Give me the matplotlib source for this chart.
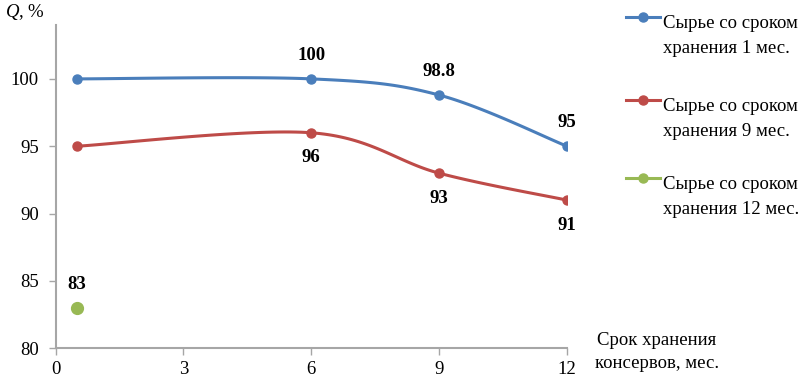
import numpy as np
import matplotlib
matplotlib.use("Agg")
import matplotlib.pyplot as plt

plt.rcParams['font.family'] = ['Liberation Serif', 'DejaVu Serif']
plt.rcParams['mathtext.fontset'] = 'custom'
plt.rcParams['mathtext.rm'] = 'Liberation Serif'
plt.rcParams['mathtext.it'] = 'Liberation Serif:italic'

x1 = [0.5, 6, 9, 12]
y1 = [100, 100, 98.8, 95]
x9 = [0.5, 6, 9, 12]
y9 = [95, 96, 93, 91]
x12 = [0.5]
y12 = [83]
names = ["Сырье со сроком\nхранения 1 мес.",
         "Сырье со сроком\nхранения 9 мес.",
         "Сырье со сроком\nхранения 12 мес."]
xticks = [0, 3, 6, 9, 12]
yticks = [80, 85, 90, 95, 100]

C_BLUE = "#4A7EBB"
C_RED = "#BE4B48"
C_GREEN = "#98B954"
FS = 13.5


def smooth(xs, ys, n=40):
    P = np.column_stack([xs, ys]).astype(float)
    m = len(P)
    out = [P[0]]
    for i in range(m - 1):
        p0 = P[i - 1] if i > 0 else P[i]
        p1 = P[i]
        p2 = P[i + 1]
        p3 = P[i + 2] if i + 2 < m else P[i + 1]
        c1 = p1 + (p2 - p0) / 6.0
        c2 = p2 - (p3 - p1) / 6.0
        t = np.linspace(0, 1, n)[1:, None]
        seg = ((1 - t) ** 3) * p1 + 3 * ((1 - t) ** 2) * t * c1 + 3 * (1 - t) * t ** 2 * c2 + t ** 3 * p2
        out.extend(seg)
    out = np.array(out)
    return out[:, 0], out[:, 1]


fig = plt.figure(figsize=(8.06, 3.78), dpi=100)
ax = fig.add_axes([55.5 / 806, 1 - 348.3 / 378, (567 - 55.5) / 806, (348.3 - 25) / 378])

sx, sy = smooth(x1, y1)
ax.plot(sx, sy, color=C_BLUE, lw=2.2, zorder=2)
ax.plot(x1, y1, 'o', color=C_BLUE, ms=6.5, zorder=3)
sx, sy = smooth(x9, y9)
ax.plot(sx, sy, color=C_RED, lw=2.2, zorder=2)
ax.plot(x9, y9, 'o', color=C_RED, ms=6.5, zorder=3)
ax.plot(x12, y12, 'o', color=C_GREEN, ms=8.5, zorder=3)

lab_kw = dict(fontsize=FS, fontweight='bold', ha='center')
for i in range(1, len(x1)):
    ax.annotate(f"{y1[i]:g}", (x1[i], y1[i]), xytext=(0, 11), textcoords='offset points', va='bottom', **lab_kw)
for i in range(1, len(x9)):
    ax.annotate(f"{y9[i]:g}", (x9[i], y9[i]), xytext=(0, -12), textcoords='offset points', va='top', **lab_kw)
for i in range(len(x12)):
    ax.annotate(f"{y12[i]:g}", (x12[i], y12[i]), xytext=(0, 11), textcoords='offset points', va='bottom', **lab_kw)

ax.set_xlim(0, 12)
ax.set_ylim(80, 104)
ax.set_xticks(xticks)
ax.set_yticks(yticks)
ax.tick_params(labelsize=FS, color='#A6A6A6', length=5, width=1)
ax.tick_params(axis='y', pad=7)
ax.tick_params(axis='x', pad=4.5)
for s in ['top', 'right']:
    ax.spines[s].set_visible(False)
for s in ['left', 'bottom']:
    ax.spines[s].set_color('#A6A6A6')
    ax.spines[s].set_linewidth(1.5)

fig.text(5 / 806, 1 - 12 / 378, "$\\mathit{Q}$, %", fontsize=FS, va='center', ha='left')
fig.text(657 / 806, 1 - 352 / 378, "Срок хранения\nконсервов, мес.", fontsize=FS,
         ha='center', va='center', linespacing=1.4)

# legend
leg_y = [17, 100, 178]
cols = [C_BLUE, C_RED, C_GREEN]
for yy, c, nm in zip(leg_y, cols, names):
    yl = 1 - yy / 378
    fig.add_artist(plt.Line2D([626 / 806, 660 / 806], [yl, yl], color=c, lw=2.2))
    fig.add_artist(plt.Line2D([643 / 806], [yl], marker='o', color=c, ms=6.5))
    fig.text(663 / 806, yl + 0.004, nm, fontsize=FS, ha='left', va='top', linespacing=1.6,
             transform=fig.transFigure)

fig.savefig("out.png", dpi=100)
